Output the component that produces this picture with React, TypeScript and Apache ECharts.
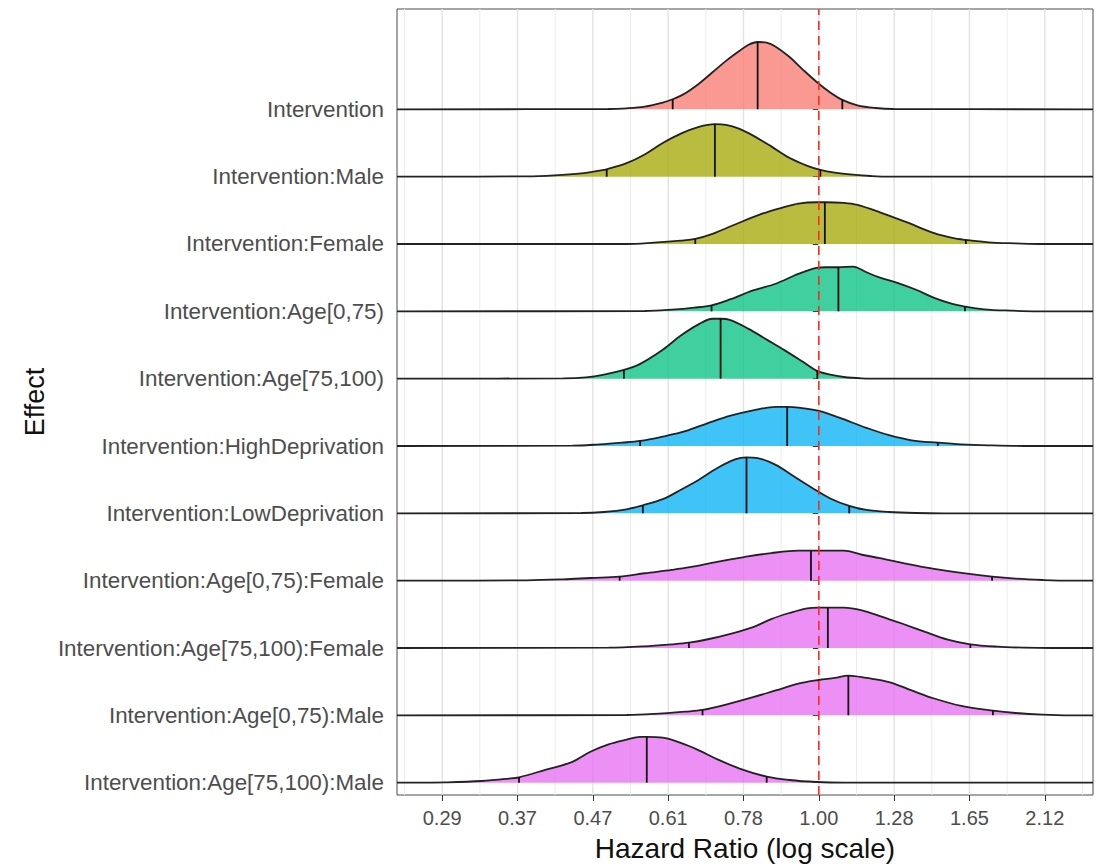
import React, { useEffect, useRef } from "react";
import * as echarts from "echarts";

// Effects listed top to bottom
const effects = [
  "Intervention",
  "Intervention:Male",
  "Intervention:Female",
  "Intervention:Age[0,75)",
  "Intervention:Age[75,100)",
  "Intervention:HighDeprivation",
  "Intervention:LowDeprivation",
  "Intervention:Age[0,75):Female",
  "Intervention:Age[75,100):Female",
  "Intervention:Age[0,75):Male",
  "Intervention:Age[75,100):Male",
];

const fillColors = [
  "#F8766D",
  "#A3A500",
  "#A3A500",
  "#00BF7D",
  "#00BF7D",
  "#00B0F6",
  "#00B0F6",
  "#E76BF3",
  "#E76BF3",
  "#E76BF3",
  "#E76BF3",
];

// x axis ticks: log(hazard ratio) positions and their labels
const xTickLog = [-1.25, -1, -0.75, -0.5, -0.25, 0, 0.25, 0.5, 0.75];
const xTickLabels = ["0.29", "0.37", "0.47", "0.61", "0.78", "1.00", "1.28", "1.65", "2.12"];
const xMinorLog = [-1.375, -1.125, -0.875, -0.625, -0.375, -0.125, 0.125, 0.375, 0.625, 0.875];
const referenceLog = 0; // HR = 1

// densities: [log(HR), scaled density height]
const intervention = [
  [-1.4, 0], [-0.698, 0.005], [-0.638, 0.015], [-0.578, 0.04], [-0.518, 0.1], [-0.485, 0.15],
  [-0.443, 0.24], [-0.398, 0.38], [-0.353, 0.55], [-0.308, 0.72], [-0.263, 0.87], [-0.233, 0.96],
  [-0.203, 1.0], [-0.173, 0.99], [-0.143, 0.93], [-0.098, 0.78], [-0.053, 0.59], [-0.008, 0.41],
  [0.038, 0.25], [0.078, 0.14], [0.128, 0.06], [0.188, 0.02], [0.248, 0.005], [0.91, 0],
];
const male = [
  [-1.4, 0], [-0.968, 0.005], [-0.878, 0.02], [-0.788, 0.05], [-0.728, 0.09], [-0.704, 0.11],
  [-0.638, 0.2], [-0.578, 0.33], [-0.518, 0.5], [-0.458, 0.64], [-0.398, 0.74], [-0.345, 0.78],
  [-0.308, 0.77], [-0.263, 0.71], [-0.218, 0.61], [-0.158, 0.45], [-0.098, 0.28], [-0.038, 0.16],
  [0.005, 0.1], [0.053, 0.06], [0.113, 0.03], [0.173, 0.01], [0.233, 0], [0.91, 0],
];
const female = [
  [-1.4, 0], [-0.638, 0], [-0.548, 0.02], [-0.458, 0.05], [-0.41, 0.075], [-0.353, 0.15],
  [-0.278, 0.29], [-0.188, 0.45], [-0.113, 0.55], [-0.068, 0.6], [-0.008, 0.62], [0.02, 0.62],
  [0.083, 0.61], [0.128, 0.58], [0.203, 0.47], [0.293, 0.32], [0.383, 0.16], [0.443, 0.09],
  [0.488, 0.06], [0.563, 0.025], [0.653, 0.01], [0.743, 0], [0.91, 0],
];
const age0to75 = [
  [-1.4, 0], [-0.578, 0.005], [-0.488, 0.025], [-0.413, 0.055], [-0.356, 0.09], [-0.293, 0.18],
  [-0.218, 0.31], [-0.143, 0.41], [-0.068, 0.555], [-0.008, 0.645], [0.023, 0.655], [0.065, 0.655],
  [0.113, 0.665], [0.158, 0.58], [0.203, 0.5], [0.263, 0.42], [0.323, 0.32], [0.383, 0.2],
  [0.443, 0.11], [0.485, 0.07], [0.548, 0.03], [0.638, 0.01], [0.728, 0], [0.91, 0],
];
const age75to100 = [
  [-1.4, 0], [-0.848, 0.005], [-0.773, 0.02], [-0.713, 0.06], [-0.647, 0.13], [-0.593, 0.22],
  [-0.518, 0.43], [-0.458, 0.64], [-0.398, 0.81], [-0.353, 0.89], [-0.326, 0.89], [-0.293, 0.87],
  [-0.233, 0.74], [-0.173, 0.58], [-0.113, 0.42], [-0.053, 0.25], [-0.008, 0.12], [0.038, 0.06],
  [0.083, 0.025], [0.143, 0.005], [0.203, 0], [0.91, 0],
];
const highDeprivation = [
  [-1.4, 0], [-0.818, 0.005], [-0.728, 0.025], [-0.653, 0.05], [-0.593, 0.075], [-0.518, 0.14],
  [-0.443, 0.22], [-0.368, 0.34], [-0.293, 0.45], [-0.218, 0.53], [-0.143, 0.58], [-0.105, 0.58],
  [-0.068, 0.57], [0.0, 0.52], [0.068, 0.42], [0.158, 0.27], [0.233, 0.16], [0.308, 0.085],
  [0.395, 0.05], [0.473, 0.025], [0.563, 0.01], [0.683, 0], [0.91, 0],
];
const lowDeprivation = [
  [-1.4, 0], [-0.788, 0.005], [-0.713, 0.02], [-0.638, 0.06], [-0.584, 0.12], [-0.518, 0.21],
  [-0.458, 0.35], [-0.398, 0.5], [-0.338, 0.67], [-0.278, 0.8], [-0.24, 0.83], [-0.203, 0.82],
  [-0.143, 0.72], [-0.083, 0.55], [-0.023, 0.38], [0.038, 0.22], [0.101, 0.11], [0.158, 0.05],
  [0.233, 0.02], [0.323, 0.005], [0.413, 0], [0.91, 0],
];
const age0to75Female = [
  [-1.4, 0], [-0.968, 0.005], [-0.848, 0.02], [-0.758, 0.04], [-0.661, 0.06], [-0.578, 0.11],
  [-0.488, 0.16], [-0.428, 0.2], [-0.338, 0.28], [-0.248, 0.35], [-0.158, 0.41], [-0.068, 0.445],
  [-0.026, 0.445], [0.023, 0.445], [0.083, 0.445], [0.143, 0.385], [0.203, 0.335], [0.293, 0.25],
  [0.383, 0.175], [0.473, 0.115], [0.575, 0.06], [0.653, 0.03], [0.743, 0.01], [0.833, 0], [0.91, 0],
];
const age75to100Female = [
  [-1.4, 0], [-0.698, 0.005], [-0.578, 0.025], [-0.488, 0.055], [-0.431, 0.08], [-0.368, 0.13],
  [-0.293, 0.21], [-0.218, 0.31], [-0.158, 0.43], [-0.098, 0.52], [-0.038, 0.59], [0.0, 0.6],
  [0.03, 0.6], [0.083, 0.6], [0.143, 0.56], [0.203, 0.475], [0.278, 0.36], [0.353, 0.24],
  [0.428, 0.125], [0.503, 0.055], [0.593, 0.02], [0.683, 0.005], [0.773, 0], [0.91, 0],
];
const age0to75Male = [
  [-1.4, 0], [-0.638, 0.005], [-0.518, 0.03], [-0.443, 0.055], [-0.386, 0.08], [-0.308, 0.16],
  [-0.218, 0.27], [-0.143, 0.37], [-0.068, 0.47], [0.0, 0.525], [0.053, 0.555], [0.098, 0.59],
  [0.158, 0.555], [0.233, 0.495], [0.308, 0.37], [0.383, 0.25], [0.473, 0.14], [0.578, 0.07],
  [0.653, 0.035], [0.743, 0.01], [0.833, 0], [0.91, 0],
];
const age75to100Male = [
  [-1.4, 0], [-1.329, 0], [-1.239, 0.005], [-1.119, 0.025], [-1.029, 0.06], [-0.995, 0.08],
  [-0.908, 0.19], [-0.818, 0.31], [-0.758, 0.46], [-0.698, 0.57], [-0.638, 0.64], [-0.593, 0.68],
  [-0.571, 0.68], [-0.518, 0.67], [-0.458, 0.59], [-0.398, 0.48], [-0.338, 0.35], [-0.263, 0.21],
  [-0.173, 0.09], [-0.098, 0.04], [-0.008, 0.01], [0.083, 0], [0.91, 0],
];

const densities = [
  intervention, male, female, age0to75, age75to100, highDeprivation,
  lowDeprivation, age0to75Female, age75to100Female, age0to75Male, age75to100Male,
];

// quantile lines: [log(HR), density height at that point], per effect (top to bottom)
const lowerQ = [
  [-0.485, 0.15], [-0.704, 0.11], [-0.41, 0.075], [-0.356, 0.09], [-0.647, 0.13], [-0.593, 0.075],
  [-0.584, 0.12], [-0.661, 0.06], [-0.431, 0.08], [-0.386, 0.08], [-0.995, 0.08],
];
const medianQ = [
  [-0.203, 1.0], [-0.345, 0.78], [0.02, 0.62], [0.065, 0.655], [-0.326, 0.89], [-0.105, 0.58],
  [-0.24, 0.83], [-0.026, 0.445], [0.03, 0.6], [0.098, 0.59], [-0.571, 0.68],
];
const upperQ = [
  [0.078, 0.14], [0.005, 0.1], [0.488, 0.06], [0.485, 0.07], [-0.005, 0.12], [0.395, 0.05],
  [0.101, 0.11], [0.575, 0.06], [0.503, 0.055], [0.578, 0.07], [-0.173, 0.09],
];

const FONT = "'Liberation Sans', Arial, Helvetica, sans-serif";

export default function App() {
  const ref = useRef<HTMLDivElement>(null);

  useEffect(() => {
    if (!ref.current) return;
    const chart = echarts.init(ref.current, null, { renderer: "svg" });
    const X_MIN = -1.4;
    const X_MAX = 0.91;
    const Y_MIN = 0.817;
    const Y_MAX = 12.49;
    const n = effects.length;
    const rowOf = (k: number) => n - k;

    const ridgeSeries = densities.map((d, k) => ({
      type: "line",
      name: effects[k],
      data: d.map(([x, h]) => [x, rowOf(k) + h]),
      symbol: "none",
      showSymbol: false,
      smooth: 0.35,
      silent: true,
      z: 3,
      lineStyle: { color: "#222222", width: 1.8 },
      areaStyle: { color: fillColors[k], opacity: 0.75, origin: rowOf(k) },
    }));

    const quantData: number[][] = [];
    [lowerQ, medianQ, upperQ].forEach((arr) => {
      arr.forEach(([x, h], k) => quantData.push([x, rowOf(k), h]));
    });

    const gridData = [
      ...xTickLog.map((v) => [v, Y_MIN, 1]),
      ...xMinorLog.map((v) => [v, Y_MIN, 0]),
    ];

    const option: any = {
      animation: false,
      backgroundColor: "#ffffff",
      grid: {
        left: 397,
        right: 6,
        top: 9,
        bottom: 69,
        show: true,
        borderColor: "#4d4d4d",
        borderWidth: 1,
        backgroundColor: "transparent",
        containLabel: false,
        outerBoundsMode: "none",
      },
      xAxis: {
        type: "value",
        min: X_MIN,
        max: X_MAX,
        splitLine: { show: false },
        axisLine: { show: false },
        axisTick: {
          show: true,
          customValues: xTickLog,
          length: 6,
          lineStyle: { color: "#333333", width: 1 },
        },
        axisLabel: {
          customValues: xTickLog,
          formatter: (v: number) => {
            const i = xTickLog.findIndex((t) => Math.abs(t - v) < 1e-6);
            return i >= 0 ? xTickLabels[i] : "";
          },
          fontSize: 20,
          fontFamily: FONT,
          color: "#4D4D4D",
          margin: 13,
        },
      },
      yAxis: {
        type: "value",
        min: Y_MIN,
        max: Y_MAX,
        splitLine: { show: false },
        axisLine: { show: false },
        axisTick: {
          show: true,
          customValues: effects.map((_, k) => rowOf(k)),
          length: 6,
          lineStyle: { color: "#333333", width: 1 },
        },
        axisLabel: {
          customValues: effects.map((_, k) => rowOf(k)),
          formatter: (v: number) => effects[n - Math.round(v)] ?? "",
          fontSize: 22.4,
          fontFamily: FONT,
          color: "#4D4D4D",
          margin: 13,
        },
      },
      graphic: [
        {
          type: "text",
          x: 745,
          y: 848,
          style: {
            text: "Hazard Ratio (log scale)",
            fontSize: 28,
            fontFamily: FONT,
            fill: "#111111",
            align: "center",
            verticalAlign: "middle",
            textAlign: "center",
            textVerticalAlign: "middle",
          },
        },
        {
          type: "text",
          x: 35,
          y: 402,
          rotation: Math.PI / 2,
          style: {
            text: "Effect",
            fontSize: 27,
            fontFamily: FONT,
            fill: "#111111",
            align: "center",
            verticalAlign: "middle",
            textAlign: "center",
            textVerticalAlign: "middle",
          },
        },
      ],
      series: [
        {
          type: "custom",
          name: "grid",
          silent: true,
          z: 1,
          data: gridData,
          encode: { x: 0, y: 1 },
          renderItem: (params: any, api: any) => {
            const v = api.value(0);
            const major = api.value(2) === 1;
            const a = api.coord([v, Y_MIN]);
            const b = api.coord([v, Y_MAX]);
            return {
              type: "line",
              shape: { x1: a[0], y1: a[1], x2: b[0], y2: b[1] },
              style: { stroke: major ? "#E2E2E2" : "#ECECEC", lineWidth: major ? 1.4 : 1 },
            };
          },
        },
        ...ridgeSeries,
        {
          type: "custom",
          name: "quantiles",
          silent: true,
          z: 4,
          data: quantData,
          encode: { x: 0, y: 1 },
          renderItem: (params: any, api: any) => {
            const x = api.value(0);
            const row = api.value(1);
            const h = api.value(2);
            const a = api.coord([x, row]);
            const b = api.coord([x, row + h]);
            return {
              type: "line",
              shape: { x1: a[0], y1: a[1], x2: b[0], y2: b[1] },
              style: { stroke: "#111111", lineWidth: 1.8 },
            };
          },
        },
        {
          type: "custom",
          name: "reference",
          silent: true,
          z: 5,
          data: [[referenceLog, Y_MIN]],
          encode: { x: 0, y: 1 },
          renderItem: (params: any, api: any) => {
            const v = api.value(0);
            const a = api.coord([v, Y_MIN]);
            const b = api.coord([v, Y_MAX]);
            return {
              type: "line",
              shape: { x1: a[0], y1: a[1], x2: b[0], y2: b[1] },
              style: { stroke: "#FF2A1F", lineWidth: 1.6, lineDash: [9, 6] },
            };
          },
        },
      ],
    };

    chart.setOption(option);
    return () => chart.dispose();
  }, []);

  return (
    <div
      ref={ref}
      style={{ position: "fixed", left: 0, top: 0, width: 1099, height: 864, background: "#fff" }}
    />
  );
}
